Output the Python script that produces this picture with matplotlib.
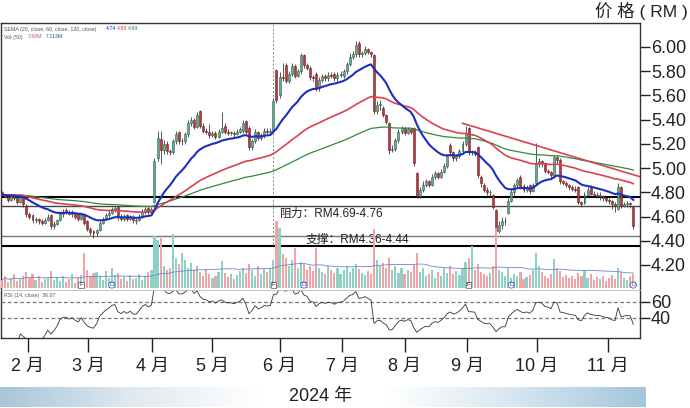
import numpy as np
import pandas as pd
import matplotlib
matplotlib.use("Agg")
import matplotlib.pyplot as plt
from matplotlib.colors import LinearSegmentedColormap

plt.rcParams['font.family'] = ['Liberation Sans', 'Noto Sans CJK SC', 'DejaVu Sans']

# daily candles, mid-Jan .. mid-Nov 2024 (trading-day index 0..207)
opens = [4.80, 4.78, 4.76, 4.74, 4.77, 4.75, 4.72, 4.76, 4.69, 4.62,
         4.61, 4.57, 4.58, 4.56, 4.55, 4.57, 4.61, 4.52, 4.54, 4.57,
         4.62, 4.65, 4.64, 4.62, 4.63, 4.62, 4.58, 4.61, 4.56, 4.50,
         4.48, 4.46, 4.49, 4.55, 4.58, 4.61, 4.63, 4.65, 4.68, 4.60,
         4.58, 4.61, 4.58, 4.60, 4.56, 4.57, 4.60, 4.64, 4.67, 4.64,
         4.72, 5.08, 5.24, 5.15, 5.20, 5.14, 5.13, 5.22, 5.30, 5.22,
         5.22, 5.28, 5.37, 5.40, 5.34, 5.47, 5.35, 5.31, 5.30, 5.27,
         5.29, 5.26, 5.30, 5.35, 5.30, 5.29, 5.29, 5.28, 5.30, 5.31,
         5.39, 5.33, 5.17, 5.22, 5.30, 5.25, 5.27, 5.31, 5.30, 5.31,
         5.81, 5.60, 5.75, 5.85, 5.72, 5.78, 5.84, 5.76, 5.80, 5.93,
         5.85, 5.83, 5.75, 5.78, 5.66, 5.73, 5.76, 5.74, 5.77, 5.78,
         5.74, 5.77, 5.76, 5.80, 5.86, 5.92, 5.94, 6.03, 5.94, 5.95,
         5.98, 5.96, 5.93, 5.47, 5.52, 5.50, 5.44, 5.37, 5.15, 5.16,
         5.23, 5.30, 5.33, 5.29, 5.32, 5.33, 4.96, 4.77, 4.82, 4.86,
         4.89, 4.86, 4.93, 4.96, 4.93, 4.97, 5.02, 5.19, 5.13, 5.08,
         5.10, 5.14, 5.20, 5.33, 5.13, 5.13, 5.17, 4.93, 4.86, 4.82,
         4.80, 4.78, 4.65, 4.48, 4.53, 4.56, 4.63, 4.73, 4.80, 4.86,
         4.93, 4.85, 4.82, 4.86, 4.81, 4.88, 5.03, 5.06, 5.04, 4.98,
         4.97, 4.94, 5.09, 5.07, 4.89, 4.88, 4.86, 4.84, 4.83, 4.84,
         4.72, 4.71, 4.78, 4.84, 4.79, 4.78, 4.77, 4.77, 4.75, 4.74,
         4.73, 4.70, 4.66, 4.84, 4.69, 4.70, 4.71, 4.68]
highs = [4.81, 4.79, 4.77, 4.79, 4.78, 4.76, 4.79, 4.77, 4.70, 4.64,
         4.62, 4.60, 4.59, 4.58, 4.59, 4.62, 4.62, 4.56, 4.58, 4.64,
         4.66, 4.67, 4.65, 4.65, 4.64, 4.63, 4.62, 4.62, 4.57, 4.51,
         4.49, 4.50, 4.56, 4.60, 4.63, 4.65, 4.68, 4.69, 4.69, 4.62,
         4.62, 4.62, 4.61, 4.61, 4.59, 4.62, 4.66, 4.68, 4.68, 4.68,
         5.08, 5.31, 5.31, 5.23, 5.22, 5.16, 5.24, 5.31, 5.31, 5.25,
         5.30, 5.40, 5.42, 5.41, 5.46, 5.48, 5.37, 5.33, 5.36, 5.31,
         5.31, 5.32, 5.46, 5.37, 5.32, 5.31, 5.31, 5.32, 5.34, 5.40,
         5.40, 5.35, 5.24, 5.32, 5.31, 5.29, 5.33, 5.33, 5.33, 5.58,
         5.82, 5.79, 5.87, 5.87, 5.80, 5.87, 5.86, 5.82, 5.95, 5.94,
         5.87, 5.84, 5.77, 5.79, 5.75, 5.78, 5.78, 5.79, 5.79, 5.79,
         5.79, 5.80, 5.82, 5.88, 5.95, 5.97, 6.05, 6.05, 5.97, 6.01,
         5.99, 5.97, 5.94, 5.55, 5.56, 5.51, 5.45, 5.38, 5.19, 5.25,
         5.32, 5.35, 5.34, 5.34, 5.33, 5.34, 4.97, 4.84, 4.89, 4.91,
         4.90, 4.95, 4.98, 4.97, 4.99, 5.04, 5.12, 5.21, 5.14, 5.12,
         5.16, 5.22, 5.35, 5.34, 5.15, 5.15, 5.18, 4.94, 4.88, 4.84,
         4.82, 4.79, 4.66, 4.56, 4.60, 4.60, 4.75, 4.83, 4.88, 4.92,
         4.94, 4.87, 4.86, 4.87, 4.88, 5.21, 5.08, 5.07, 5.05, 4.99,
         4.98, 5.11, 5.10, 5.08, 4.90, 4.89, 4.87, 4.86, 4.85, 4.85,
         4.73, 4.80, 4.84, 4.86, 4.81, 4.80, 4.80, 4.78, 4.76, 4.75,
         4.74, 4.72, 4.88, 4.85, 4.72, 4.73, 4.72, 4.69]
lows = [4.77, 4.75, 4.72, 4.73, 4.74, 4.70, 4.71, 4.68, 4.60, 4.58,
        4.55, 4.55, 4.54, 4.53, 4.54, 4.56, 4.50, 4.50, 4.53, 4.56,
        4.60, 4.62, 4.61, 4.60, 4.58, 4.56, 4.57, 4.53, 4.48, 4.45,
        4.42, 4.44, 4.48, 4.54, 4.57, 4.60, 4.62, 4.64, 4.57, 4.56,
        4.56, 4.56, 4.57, 4.55, 4.54, 4.56, 4.59, 4.62, 4.62, 4.62,
        4.71, 5.06, 5.03, 5.12, 5.12, 5.11, 5.12, 5.20, 5.20, 5.19,
        5.20, 5.26, 5.35, 5.32, 5.33, 5.33, 5.29, 5.28, 5.25, 5.26,
        5.24, 5.25, 5.29, 5.28, 5.27, 5.27, 5.26, 5.27, 5.29, 5.29,
        5.28, 5.15, 5.15, 5.21, 5.23, 5.23, 5.25, 5.28, 5.29, 5.29,
        5.54, 5.58, 5.72, 5.70, 5.70, 5.76, 5.74, 5.75, 5.78, 5.83,
        5.81, 5.73, 5.72, 5.64, 5.64, 5.71, 5.72, 5.72, 5.74, 5.72,
        5.72, 5.75, 5.74, 5.78, 5.84, 5.90, 5.92, 5.92, 5.92, 5.93,
        5.94, 5.92, 5.45, 5.45, 5.48, 5.42, 5.36, 5.12, 5.13, 5.14,
        5.21, 5.28, 5.27, 5.28, 5.28, 5.02, 4.75, 4.75, 4.80, 4.84,
        4.84, 4.85, 4.91, 4.91, 4.92, 4.96, 5.00, 5.10, 5.06, 5.06,
        5.08, 5.12, 5.18, 5.11, 5.11, 5.10, 4.92, 4.84, 4.80, 4.78,
        4.77, 4.66, 4.45, 4.46, 4.50, 4.53, 4.62, 4.72, 4.78, 4.84,
        4.83, 4.80, 4.80, 4.79, 4.80, 4.86, 5.01, 5.01, 4.96, 4.95,
        4.92, 4.92, 5.04, 4.87, 4.86, 4.84, 4.82, 4.81, 4.80, 4.70,
        4.68, 4.70, 4.77, 4.78, 4.76, 4.75, 4.74, 4.73, 4.72, 4.70,
        4.66, 4.64, 4.65, 4.67, 4.68, 4.68, 4.67, 4.50]
closes = [4.78, 4.76, 4.74, 4.77, 4.75, 4.72, 4.76, 4.70, 4.62, 4.60,
          4.57, 4.58, 4.56, 4.55, 4.57, 4.60, 4.52, 4.54, 4.57, 4.62,
          4.64, 4.64, 4.62, 4.63, 4.60, 4.58, 4.61, 4.55, 4.50, 4.47,
          4.46, 4.49, 4.55, 4.58, 4.61, 4.63, 4.66, 4.67, 4.60, 4.58,
          4.60, 4.58, 4.60, 4.57, 4.57, 4.60, 4.64, 4.66, 4.64, 4.66,
          5.06, 5.25, 5.15, 5.20, 5.14, 5.13, 5.22, 5.28, 5.22, 5.22,
          5.28, 5.37, 5.40, 5.34, 5.44, 5.35, 5.31, 5.30, 5.27, 5.29,
          5.26, 5.30, 5.33, 5.30, 5.29, 5.29, 5.28, 5.30, 5.32, 5.37,
          5.30, 5.17, 5.22, 5.30, 5.25, 5.27, 5.31, 5.30, 5.31, 5.55,
          5.56, 5.75, 5.74, 5.72, 5.78, 5.84, 5.76, 5.80, 5.93, 5.85,
          5.83, 5.75, 5.74, 5.66, 5.73, 5.76, 5.74, 5.77, 5.76, 5.74,
          5.77, 5.78, 5.80, 5.86, 5.92, 5.94, 6.02, 5.94, 5.95, 5.98,
          5.96, 5.94, 5.47, 5.52, 5.53, 5.44, 5.38, 5.15, 5.16, 5.23,
          5.30, 5.33, 5.29, 5.32, 5.30, 5.04, 4.77, 4.82, 4.86, 4.89,
          4.86, 4.93, 4.96, 4.93, 4.97, 5.02, 5.10, 5.13, 5.08, 5.10,
          5.14, 5.20, 5.29, 5.13, 5.13, 5.12, 4.94, 4.88, 4.82, 4.80,
          4.80, 4.68, 4.48, 4.53, 4.56, 4.56, 4.73, 4.80, 4.86, 4.90,
          4.85, 4.82, 4.84, 4.81, 4.86, 5.03, 5.06, 5.04, 4.98, 4.97,
          4.94, 5.09, 5.07, 4.89, 4.88, 4.86, 4.84, 4.83, 4.82, 4.72,
          4.70, 4.78, 4.82, 4.79, 4.78, 4.77, 4.77, 4.75, 4.74, 4.73,
          4.70, 4.69, 4.84, 4.69, 4.70, 4.71, 4.70, 4.52]
volume = [8, 12, 6, 10, 14, 7, 9, 12, 16, 10,
          14, 8, 12, 6, 9, 10, 17, 8, 11, 7,
          12, 6, 9, 14, 5, 11, 13, 35, 18, 12,
          15, 16, 12, 8, 17, 10, 20, 13, 15, 9,
          11, 7, 13, 9, 10, 14, 8, 12, 16, 18,
          52, 48, 50, 22, 18, 20, 54, 30, 24, 35,
          28, 20, 25, 18, 22, 16, 12, 19, 14, 10,
          12, 16, 27, 15, 11, 14, 9, 13, 17, 20,
          15, 24, 18, 12, 22, 14, 19, 16, 20, 28,
          67, 60, 34, 30, 22, 28, 40, 20, 26, 24,
          18, 22, 17, 40, 20, 16, 14, 22, 18, 15,
          20, 14, 18, 22, 16, 20, 24, 19, 15, 13,
          17, 14, 59, 28, 22, 25, 20, 30, 18, 22,
          15, 20, 14, 18, 16, 24, 35, 16, 20, 12,
          14, 18, 10, 16, 12, 20, 15, 22, 14, 17,
          13, 20, 26, 30, 42, 18, 24, 16, 14, 12,
          15, 22, 60, 18, 16, 12, 20, 10, 14, 12,
          16, 9, 11, 13, 18, 35, 22, 16, 12, 10,
          14, 29, 20, 17, 11, 13, 10, 12, 9, 15,
          12, 18, 10, 14, 8, 11, 9, 12, 7, 10,
          13, 9, 20, 16, 10, 8, 12, 14]

months = ['2 月', '3 月', '4 月', '5 月', '6 月', '7 月', '8 月', '9 月', '10 月', '11 月']
month_idx = [8.5, 28.2, 49.2, 68.9, 91.1, 111.5, 132.0, 152.5, 175.4, 198.6]
resist = [4.69, 4.76]
support = [4.36, 4.44]
trend_x = [151, 209]
trend_y = [5.37, 4.93]
f_marks = [26, 89, 153]
d_marks = [36, 99, 167, 207]
event_idx = 89

o = np.array(opens); h = np.array(highs); l = np.array(lows); c = np.array(closes)
v = np.array(volume, dtype=float)
x = np.arange(len(c))
up = c >= o

cl = pd.Series(c)
ema20 = cl.ewm(span=20, adjust=False).mean()
ema60 = cl.ewm(span=60, adjust=False).mean()
ema120 = cl.ewm(span=120, adjust=False).mean()
d = cl.diff()
gain = d.clip(lower=0).ewm(alpha=1/14, adjust=False).mean()
loss = (-d.clip(upper=0)).ewm(alpha=1/14, adjust=False).mean()
rsi = 100 - 100 / (1 + gain / loss)
vol_ma = pd.Series(v).rolling(50, min_periods=1).mean()

W, H = 690, 408
fig = plt.figure(figsize=(6.9, 4.08), dpi=100)

def box(x0, y0, x1, y1):
    return [x0 / W, 1 - y1 / H, (x1 - x0) / W, (y1 - y0) / H]

XL = (-0.33, 209.2)

# price panel (its frame is the whole chart box)
ax = fig.add_axes(box(1, 23, 640, 338))
ax.set_xlim(*XL)
ax.set_ylim(3.597, 6.198)
ax.vlines(x, l, h, color='#3a3a3a', lw=0.6, zorder=3)
body = np.where(np.abs(c - o) < 0.004, 0.006, c - o)
ax.bar(x[up], body[up], bottom=o[up], width=0.65, color='#6aaa92',
       edgecolor='#2f5e4e', lw=0.4, zorder=4)
ax.bar(x[~up], body[~up], bottom=o[~up], width=0.65, color='#b23c3c',
       edgecolor='#6e2020', lw=0.4, zorder=4)
ax.plot(x, ema120, color='#2e8b3a', lw=0.9, zorder=5)
ax.plot(x, ema60, color='#dd4050', lw=1.2, zorder=5)
ax.plot(x, ema20, color='#1c2fc0', lw=1.5, zorder=6)
ax.plot(trend_x, trend_y, color='#dd4050', lw=1.2, zorder=5)
ax.axhline(resist[1], color='black', lw=1.5, zorder=2)
ax.axhline(resist[0], color='#444444', lw=1.0, zorder=2)
ax.axhline(support[1], color='#777777', lw=1.0, zorder=2)
ax.axhline(support[0], color='black', lw=1.5, zorder=2)
ax.plot([event_idx, event_idx], [4.37, 6.198], color='#888888', lw=0.7,
        ls=(0, (2, 2)), zorder=1)
ax.text(91, resist[0] - 0.015, '阻力：RM4.69-4.76', fontsize=8.5,
        va='top', ha='left', color='#222222', zorder=7)
ax.text(99.5, support[0] + 0.05, '支撑：RM4.36-4.44', fontsize=8.5,
        va='center', ha='left', color='#222222', zorder=7)

ax.yaxis.tick_right()
ax.set_yticks([4.2, 4.4, 4.6, 4.8, 5.0, 5.2, 5.4, 5.6, 5.8, 6.0])
ax.set_yticklabels(['%.2f' % t for t in ax.get_yticks()])
ax.tick_params(axis='y', direction='out', length=7, width=1, pad=1,
               labelsize=13, colors='#222222')
ax.set_xticks(month_idx)
ax.set_xticklabels(months)
ax.tick_params(axis='x', direction='out', length=10, width=1, pad=4,
               labelsize=13, colors='#222222')
for s in ax.spines.values():
    s.set_linewidth(1.0)
    s.set_color('#333333')

# volume panel
axv = fig.add_axes(box(1, 215, 640, 288))
axv.patch.set_alpha(0)
axv.set_xlim(*XL)
axv.set_ylim(0, 73)
axv.bar(x, v, width=0.7, color=np.where(up, '#8fd1c4', '#f2a3a6'), lw=0)
axv.plot(x, vol_ma, color='#6d88c8', lw=0.6)
for m in f_marks:
    axv.text(m, 3, 'F', fontsize=4.5, ha='center', va='center', color='#333',
             bbox=dict(boxstyle='square,pad=0.15', fc='white', ec='#555', lw=0.5))
for m in d_marks:
    axv.text(m, 3, 'D', fontsize=4.5, ha='center', va='center', color='#3050b0',
             bbox=dict(boxstyle='circle,pad=0.1', fc='white', ec='#3050b0', lw=0.5))
axv.axis('off')

# RSI panel
axr = fig.add_axes(box(1, 290, 640, 338))
axr.patch.set_alpha(0)
axr.set_xlim(*XL)
axr.set_ylim(15, 75)
axr.axhline(60, color='#777777', lw=0.9, ls=(0, (3, 2)))
axr.axhline(40, color='#777777', lw=0.9, ls=(0, (3, 2)))
axr.plot(x, rsi, color='#333333', lw=0.6)
axr.yaxis.tick_right()
axr.set_yticks([40, 60])
axr.set_xticks([])
axr.tick_params(axis='y', direction='out', length=7, width=1, pad=1,
                labelsize=13, colors='#222222')
for s in axr.spines.values():
    s.set_visible(False)
axr.spines['top'].set_visible(True)
axr.spines['top'].set_color('#bbbbbb')
axr.spines['top'].set_linewidth(0.6)

# small legend texts
fs = 3.8
fig.text(4 / W, 1 - 29 / H, 'SEMA (20, close, 60, close, 120, close)', fontsize=fs,
         color='#555555', va='center')
fig.text(106 / W, 1 - 29 / H, '4.74', fontsize=fs, color='#1c2fc0', va='center')
fig.text(117 / W, 1 - 29 / H, '4.88', fontsize=fs, color='#dd4050', va='center')
fig.text(128 / W, 1 - 29 / H, '4.99', fontsize=fs, color='#2e8b3a', va='center')
fig.text(4 / W, 1 - 37 / H, 'Vol (50)', fontsize=fs, color='#555555', va='center')
fig.text(28 / W, 1 - 37 / H, '7.60M', fontsize=fs, color='#d05060', va='center')
fig.text(46 / W, 1 - 37 / H, '7.113M', fontsize=fs, color='#3050b0', va='center')
fig.text(4 / W, 1 - 295 / H, 'RSI (14, close)  36.07', fontsize=fs,
         color='#555555', va='center')

fig.text(688 / W, 1 - 11 / H, '价 格 ( RM )', fontsize=12.5, ha='right',
         va='center', color='#222222')

# bottom gradient band with year
axg = fig.add_axes(box(0, 387, 646, 407))
cmap = LinearSegmentedColormap.from_list(
    'band', ['#a9c5d8', '#dfe9f0', '#ffffff', '#ffffff', '#d6e6f0', '#a2c6dc'])
axg.imshow(np.linspace(0, 1, 256)[None, :], aspect='auto', cmap=cmap,
           extent=(0, 1, 0, 1))
axg.axis('off')
fig.text(321 / W, 1 - 397 / H, '2024 年', fontsize=13, ha='center',
         va='center', color='#222222')

fig.savefig('out.png', dpi=100)
